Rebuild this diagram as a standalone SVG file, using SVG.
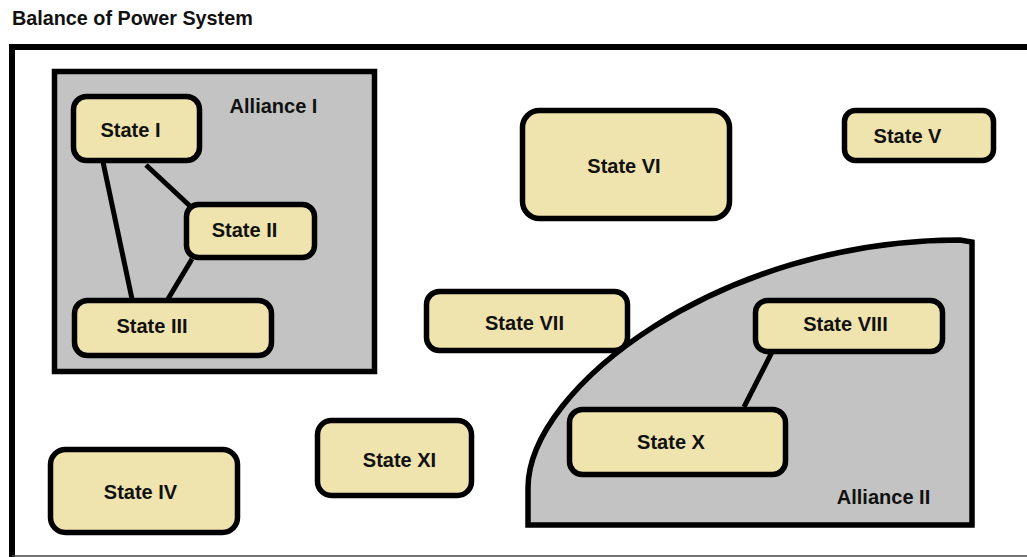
<svg xmlns="http://www.w3.org/2000/svg" width="1027" height="557" viewBox="0 0 1027 557">
<style>
text{font-family:"Liberation Sans",Arial,sans-serif;font-weight:bold;font-size:20px;fill:#111;text-anchor:middle}
.state rect{fill:#efe3ae;stroke:#000;stroke-width:5.5}
.alliance{fill:#c3c3c3;stroke:#000;stroke-width:5.5}
.conn line{stroke:#000;stroke-width:5;stroke-linecap:butt}
</style>
<rect width="1027" height="557" fill="#fff"/>
<text x="12" y="25" style="text-anchor:start;font-size:19.8px">Balance of Power System</text>
<g id="frame">
<path d="M12 557 V47 H1027" fill="none" stroke="#000" stroke-width="6"/>
<line x1="12" y1="556" x2="1027" y2="556" stroke="#444" stroke-width="1.5"/>
</g>
<g id="alliance-1">
<rect class="alliance" x="54.5" y="71.5" width="320" height="300"/>
<text x="273.5" y="113">Alliance I</text>
</g>
<g id="alliance-2">
<path class="alliance" d="M528 525 V488 C528 388 720 240 960 240 L972 242 V525 Z"/>
<text x="883.5" y="504">Alliance II</text>
</g>
<g id="connectors" class="conn">
<line x1="103" y1="162" x2="132" y2="299"/>
<line x1="146" y1="165" x2="190" y2="206"/>
<line x1="192" y1="259" x2="168" y2="299"/>
<line x1="772" y1="352" x2="744" y2="407"/>
</g>
<g id="state-1" class="state"><rect x="73.5" y="96.5" width="126" height="64" rx="13"/><text x="130.5" y="137">State I</text></g>
<g id="state-2" class="state"><rect x="186.5" y="204.5" width="128" height="53" rx="12"/><text x="244.5" y="237">State II</text></g>
<g id="state-3" class="state"><rect x="74.5" y="300.5" width="197" height="55" rx="13"/><text x="152" y="333">State III</text></g>
<g id="state-4" class="state"><rect x="50.5" y="449.5" width="187" height="83" rx="15"/><text x="140.5" y="499">State IV</text></g>
<g id="state-5" class="state"><rect x="844.5" y="110.5" width="149" height="50" rx="11"/><text x="907.5" y="143">State V</text></g>
<g id="state-6" class="state"><rect x="522.5" y="110.5" width="207" height="108" rx="17"/><text x="624" y="173">State VI</text></g>
<g id="state-7" class="state"><rect x="426.5" y="291.5" width="201" height="59" rx="13"/><text x="524.5" y="330">State VII</text></g>
<g id="state-8" class="state"><rect x="755.5" y="300.5" width="187" height="51" rx="12"/><text x="845.5" y="331">State VIII</text></g>
<g id="state-10" class="state"><rect x="569.5" y="409.5" width="216" height="65" rx="13"/><text x="671" y="449">State X</text></g>
<g id="state-11" class="state"><rect x="317.5" y="420.5" width="154" height="75" rx="14"/><text x="399.5" y="467">State XI</text></g>
</svg>
